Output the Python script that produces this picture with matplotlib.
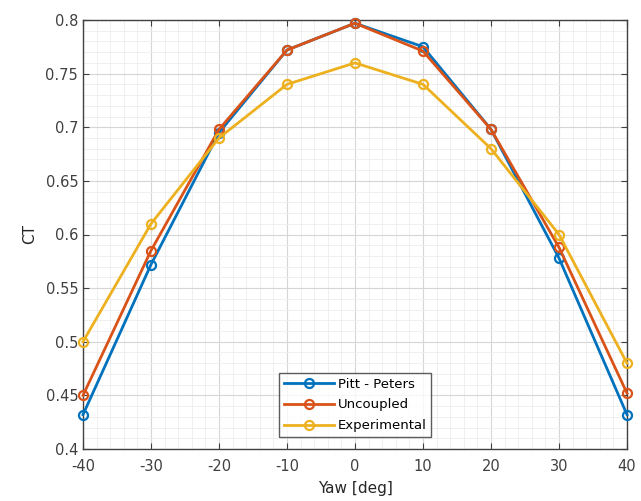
import numpy as np
import matplotlib.pyplot as plt
from matplotlib.ticker import AutoMinorLocator

plt.rcParams["axes.unicode_minus"] = False

# donnees
yaw = [-40, -30, -20, -10, 0, 10, 20, 30, 40]
ct_pitt = [0.432, 0.572, 0.695, 0.772, 0.797, 0.775, 0.698, 0.578, 0.432]
ct_uncoupled = [0.450, 0.585, 0.698, 0.772, 0.797, 0.771, 0.698, 0.588, 0.452]
ct_exp = [0.500, 0.610, 0.690, 0.740, 0.760, 0.740, 0.680, 0.600, 0.480]
labels = ["Pitt - Peters", "Uncoupled", "Experimental"]

# couleurs par defaut de matlab
colors = [(0, 0.447, 0.741), (0.85, 0.325, 0.098), (0.929, 0.694, 0.125)]

fig = plt.figure(figsize=(6.41, 5.01), dpi=100)
ax = fig.add_axes([83 / 641, 1 - 449 / 501, 544 / 641, 429 / 501])

for serie, lab, col in zip([ct_pitt, ct_uncoupled, ct_exp], labels, colors):
    ax.plot(yaw, serie, marker="o", color=col, lw=2, ms=6.5, mfc="none",
            mew=1.6, label=lab, clip_on=False, zorder=3)

ax.set_xlim(-40, 40)
ax.set_ylim(0.4, 0.8)
ax.set_xticks(np.arange(-40, 41, 10))
ax.set_yticks(np.arange(0.4, 0.801, 0.05))
ax.set_yticklabels(["0.4", "0.45", "0.5", "0.55", "0.6", "0.65", "0.7", "0.75", "0.8"])
ax.xaxis.set_minor_locator(AutoMinorLocator(5))
ax.yaxis.set_minor_locator(AutoMinorLocator(5))

ax.grid(which="major", color="0.84", lw=0.8)
ax.grid(which="minor", color="0.93", lw=0.6)
ax.set_axisbelow(True)

gris = "0.25"
for sp in ax.spines.values():
    sp.set_color(gris)
    sp.set_linewidth(1.0)
ax.tick_params(which="both", direction="in", colors=gris, labelsize=10.5,
               top=True, right=True)
ax.tick_params(which="minor", length=0)
ax.tick_params(which="major", length=4)
ax.tick_params(axis="x", pad=7)

ax.set_xlabel("Yaw [deg]", fontsize=11, color="0.15", labelpad=5)
ax.set_ylabel("CT", fontsize=11, color="0.15", labelpad=6)

leg = ax.legend(loc="lower center", bbox_to_anchor=(0.5, 0.028), fontsize=9.5,
                frameon=True, fancybox=False, edgecolor="0.2",
                handlelength=3.8, handletextpad=0.3, borderpad=0.35,
                labelspacing=0.6, borderaxespad=0)
leg.get_frame().set_linewidth(1.0)

fig.savefig("out.png", dpi=100)
